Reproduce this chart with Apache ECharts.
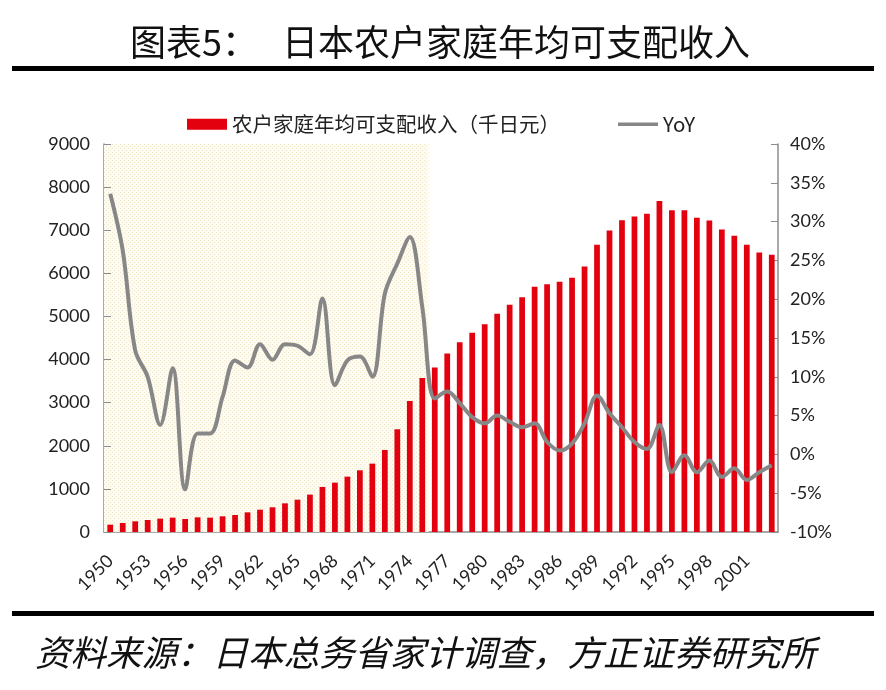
<!DOCTYPE html>
<html>
<head>
<meta charset="utf-8">
<script src="https://cdn.jsdelivr.net/npm/echarts@6/dist/echarts.min.js"></script>
<style>
  html, body { margin: 0; padding: 0; background: #fff; }
  #chart { width: 886px; height: 690px; }
</style>
</head>
<body>
<div id="chart"></div>
<script>
// years 1950 - 2003
const years = []
for (let y = 1950; y <= 2003; y++) years.push(String(y))

// 农户家庭年均可支配收入（千日元）
const income = [
  170, 209, 248, 279, 310, 333, 302, 340, 333, 364,
  395, 456, 518, 573, 665, 750, 867, 1045, 1145, 1284,
  1431, 1586, 1903, 2383, 3040, 3575, 3814, 4139, 4402, 4619,
  4820, 5060, 5269, 5447, 5687, 5749, 5803, 5896, 6159, 6662,
  6994, 7234, 7319, 7381, 7675, 7466, 7466, 7288, 7226, 7017,
  6870, 6662, 6484, 6430
]

// YoY (%)
const yoy = [
  33.6, 26.3, 13.4, 10.0, 3.8, 11.1, -4.5, 2.7, 2.7, 7.4,
  12.1, 11.2, 14.2, 12.2, 14.2, 14.0, 12.9, 20.1, 8.9, 12.1,
  12.6, 10.0, 20.7, 24.6, 28.0, 19.0, 7.2, 8.1, 6.6, 4.8,
  4.0, 5.0, 4.2, 3.5, 4.0, 1.6, 0.5, 1.4, 4.0, 7.6,
  5.3, 3.5, 1.6, 0.7, 3.8, -2.3, -0.1, -2.3, -0.8, -2.9,
  -1.8, -3.3, -2.3, -1.4
]

// highlighted period (shaded background)
const shadeStart = 1950
const shadeEnd = 1975
const leftMax = 9000

const shade = years.map(y => (+y >= shadeStart && +y <= shadeEnd) ? leftMax : '-')

// dotted cream pattern
const pat = document.createElement('canvas')
pat.width = 4
pat.height = 4
const pctx = pat.getContext('2d')
pctx.fillStyle = '#fefcf2'
pctx.fillRect(0, 0, 4, 4)
pctx.fillStyle = '#efe6c6'
pctx.fillRect(0, 0, 1, 1)
pctx.fillRect(2, 2, 1, 1)

const chart = echarts.init(document.getElementById('chart'), null, { renderer: 'canvas' })

const axisColor = '#8c8c8c'
const labelFont = { fontFamily: 'Lato', fontSize: 18, color: '#222' }

chart.setOption({
  animation: false,
  backgroundColor: '#fff',
  graphic: [
    {
      type: 'text', left: 130, top: 24,
      style: { text: '图表5：', font: '36px "Noto Sans CJK SC"', fill: '#111' }
    },
    {
      type: 'text', left: 282, top: 24,
      style: { text: '日本农户家庭年均可支配收入', font: '36px "Noto Sans CJK SC"', fill: '#111' }
    },
    {
      type: 'rect', shape: { x: 12, y: 66, width: 862, height: 5 },
      style: { fill: '#000' }
    },
    {
      type: 'rect', shape: { x: 12, y: 611, width: 862, height: 5 },
      style: { fill: '#000' }
    },
    {
      type: 'text', left: 35, top: 635,
      style: { text: '资料来源：日本总务省家计调查，方正证券研究所', font: 'italic 35.5px "Noto Sans CJK SC"', fill: '#111' }
    }
  ],
  legend: {
    top: 109,
    left: 182,
    itemWidth: 40,
    itemHeight: 11,
    itemGap: 58,
    data: [
      { name: '农户家庭年均可支配收入（千日元）', icon: 'rect' },
      { name: 'YoY', icon: 'path://M0,0 L40,0 L40,3.5 L0,3.5 Z', itemStyle: { color: '#878787' } }
    ],
    textStyle: { fontFamily: 'Noto Sans CJK SC', fontSize: 20.5, color: '#222' }
  },
  grid: { left: 104, right: 108, top: 144, bottom: 158, containLabel: false },
  xAxis: [
    {
      type: 'category',
      data: years,
      boundaryGap: true,
      axisLine: { lineStyle: { color: axisColor, width: 1.5 } },
      axisTick: { inside: true, interval: 4, length: 5, lineStyle: { color: axisColor } },
      axisLabel: Object.assign({ interval: 2, rotate: 45, margin: 26 }, labelFont)
    },
    {
      type: 'category',
      data: years,
      show: false
    }
  ],
  yAxis: [
    {
      type: 'value',
      min: 0, max: leftMax, interval: 1000,
      splitLine: { show: false },
      axisLine: { show: true, lineStyle: { color: axisColor, width: 1.5 } },
      axisTick: { show: true, inside: true, length: 7, lineStyle: { color: axisColor } },
      axisLabel: Object.assign({ margin: 14, formatter: v => String(v) }, labelFont)
    },
    {
      type: 'value',
      min: -10, max: 40, interval: 5,
      splitLine: { show: false },
      axisLine: { show: true, lineStyle: { color: axisColor, width: 1.5 } },
      axisTick: { show: true, inside: true, length: 7, lineStyle: { color: axisColor } },
      axisLabel: Object.assign({ margin: 12, formatter: '{value}%' }, labelFont)
    }
  ],
  series: [
    {
      name: 'shade',
      type: 'bar',
      xAxisIndex: 1,
      yAxisIndex: 0,
      data: shade,
      barWidth: '100%',
      silent: true,
      z: 0,
      itemStyle: { color: { image: pat, repeat: 'repeat' } }
    },
    {
      name: '农户家庭年均可支配收入（千日元）',
      type: 'bar',
      data: income,
      barWidth: '46%',
      z: 2,
      itemStyle: { color: '#e3000f' }
    },
    {
      name: 'YoY',
      type: 'line',
      yAxisIndex: 1,
      data: yoy,
      smooth: 0.35,
      symbol: 'none',
      z: 3,
      lineStyle: { color: '#878787', width: 4 },
      itemStyle: { color: '#878787' }
    }
  ]
})
</script>
</body>
</html>
